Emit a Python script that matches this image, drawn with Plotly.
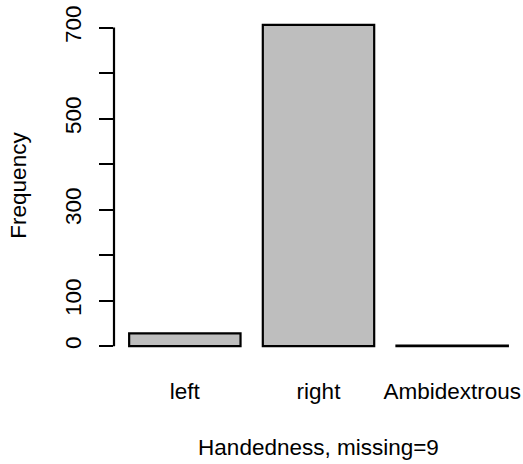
import plotly.graph_objects as go

categories = ["left", "right", "Ambidextrous"]
counts = [28, 706, 1]
y_ticks = [0, 100, 200, 300, 400, 500, 600, 700]
y_ticklabels = ["0", "100", "", "300", "", "500", "", "700"]
x_title = "Handedness, missing=9"
y_title = "Frequency"

# R barplot geometry: width 1, space 0.2
centers = [0.7 + 1.2 * i for i in range(len(categories))]
xmin, xmax = 0.2, 0.2 + 1.2 * len(categories) - 0.2
xpad = 0.04 * (xmax - xmin)
ymax = max(counts)
ypad = 0.04 * ymax

FONT = "Liberation Sans, Arial, Helvetica, sans-serif"
FS = 22.5

fig = go.Figure()
fig.add_trace(go.Bar(
    x=centers, y=counts, width=1.0,
    marker=dict(color="#BEBEBE", line=dict(color="black", width=2.2)),
))

fig.update_layout(
    width=523, height=464,
    margin=dict(l=114, r=0, t=12, b=105),
    plot_bgcolor="white", paper_bgcolor="white",
    showlegend=False,
    font=dict(family=FONT, size=FS, color="black"),
    xaxis=dict(
        range=[xmin - xpad, xmax + xpad],
        tickmode="array", tickvals=centers, ticktext=categories,
        ticks="", showline=False, showgrid=False, zeroline=False,
        tickfont=dict(size=FS), ticklabelstandoff=16,
        title=dict(text=x_title, font=dict(size=FS), standoff=36),
    ),
    yaxis=dict(
        range=[-ypad, ymax + ypad],
        tickmode="array", tickvals=y_ticks, ticktext=y_ticklabels,
        ticks="outside", ticklen=14, tickwidth=2.2, tickcolor="black",
        tickangle=-90, tickfont=dict(size=FS), ticklabelstandoff=9,
        showline=False, showgrid=False, zeroline=False,
        title=dict(text=y_title, font=dict(size=FS), standoff=28),
    ),
)
# R-style axis line spanning only the first to last tick
fig.add_shape(type="line", xref="paper", yref="y",
              x0=0, x1=0, y0=y_ticks[0], y1=y_ticks[-1],
              line=dict(color="black", width=2.2))

fig.write_html("out.html")
